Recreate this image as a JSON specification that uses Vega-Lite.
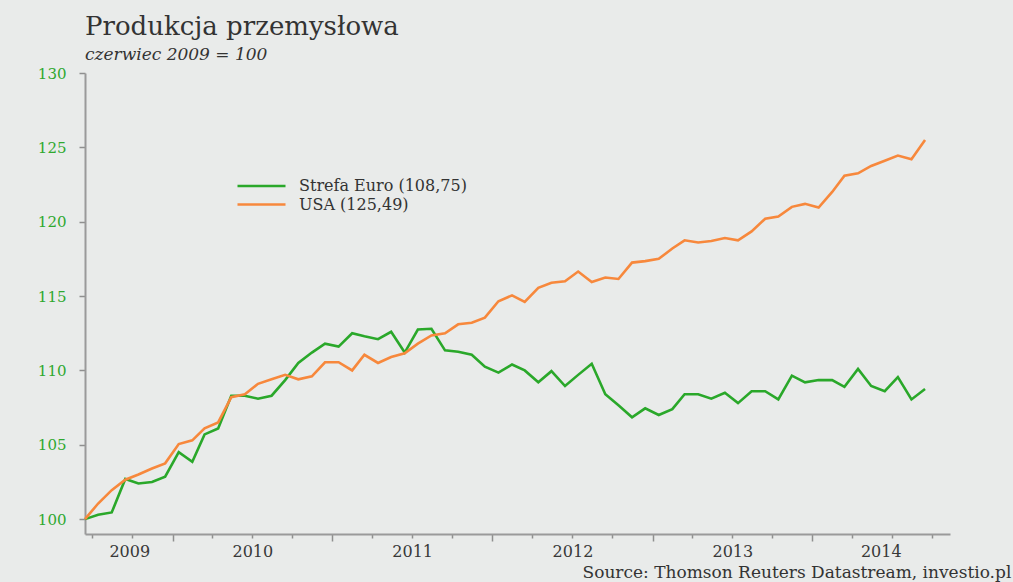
{
  "$schema": "https://vega.github.io/schema/vega-lite/v6.json",
  "width": 865,
  "height": 461,
  "autosize": "none",
  "padding": {"left": 85, "top": 73, "right": 63, "bottom": 48},
  "background": "#e9ebea",
  "config": {"view": {"stroke": null}, "font": "DejaVu Serif"},
  "title": {
    "text": "Produkcja przemysłowa",
    "subtitle": "czerwiec 2009 = 100",
    "anchor": "start",
    "frame": "group",
    "font": "DejaVu Serif",
    "fontSize": 26,
    "fontWeight": "normal",
    "color": "#333333",
    "subtitleFont": "DejaVu Serif",
    "subtitleFontSize": 17,
    "subtitleFontStyle": "italic",
    "subtitleColor": "#333333",
    "offset": 3,
    "subtitlePadding": 7
  },
  "data": {
    "values": [
      {"date": "2009-06-15", "euro": 100.0, "usa": 100.0},
      {"date": "2009-07-15", "euro": 100.3, "usa": 101.05},
      {"date": "2009-08-15", "euro": 100.45, "usa": 101.95},
      {"date": "2009-09-15", "euro": 102.7, "usa": 102.65},
      {"date": "2009-10-15", "euro": 102.4, "usa": 103.0},
      {"date": "2009-11-15", "euro": 102.5, "usa": 103.4},
      {"date": "2009-12-15", "euro": 102.85, "usa": 103.75},
      {"date": "2010-01-15", "euro": 104.5, "usa": 105.05},
      {"date": "2010-02-15", "euro": 103.85, "usa": 105.3},
      {"date": "2010-03-15", "euro": 105.7, "usa": 106.1},
      {"date": "2010-04-15", "euro": 106.1, "usa": 106.5},
      {"date": "2010-05-15", "euro": 108.3, "usa": 108.2},
      {"date": "2010-06-15", "euro": 108.3, "usa": 108.4},
      {"date": "2010-07-15", "euro": 108.1, "usa": 109.1},
      {"date": "2010-08-15", "euro": 108.3, "usa": 109.4},
      {"date": "2010-09-15", "euro": 109.35, "usa": 109.7},
      {"date": "2010-10-15", "euro": 110.5, "usa": 109.4},
      {"date": "2010-11-15", "euro": 111.2, "usa": 109.6},
      {"date": "2010-12-15", "euro": 111.8, "usa": 110.55},
      {"date": "2011-01-15", "euro": 111.6, "usa": 110.55},
      {"date": "2011-02-15", "euro": 112.5, "usa": 110.0},
      {"date": "2011-03-15", "euro": 112.3, "usa": 111.05},
      {"date": "2011-04-15", "euro": 112.1, "usa": 110.5},
      {"date": "2011-05-15", "euro": 112.6, "usa": 110.9},
      {"date": "2011-06-15", "euro": 111.2, "usa": 111.15},
      {"date": "2011-07-15", "euro": 112.75, "usa": 111.8},
      {"date": "2011-08-15", "euro": 112.8, "usa": 112.35},
      {"date": "2011-09-15", "euro": 111.35, "usa": 112.5},
      {"date": "2011-10-15", "euro": 111.25, "usa": 113.1},
      {"date": "2011-11-15", "euro": 111.05, "usa": 113.2},
      {"date": "2011-12-15", "euro": 110.25, "usa": 113.55},
      {"date": "2012-01-15", "euro": 109.85, "usa": 114.65},
      {"date": "2012-02-15", "euro": 110.4, "usa": 115.05},
      {"date": "2012-03-15", "euro": 110.0, "usa": 114.6},
      {"date": "2012-04-15", "euro": 109.2, "usa": 115.55},
      {"date": "2012-05-15", "euro": 109.95, "usa": 115.9},
      {"date": "2012-06-15", "euro": 108.95, "usa": 116.0},
      {"date": "2012-07-15", "euro": 109.7, "usa": 116.65},
      {"date": "2012-08-15", "euro": 110.45, "usa": 115.95},
      {"date": "2012-09-15", "euro": 108.4, "usa": 116.25},
      {"date": "2012-10-15", "euro": 107.65, "usa": 116.15},
      {"date": "2012-11-15", "euro": 106.85, "usa": 117.25},
      {"date": "2012-12-15", "euro": 107.45, "usa": 117.35},
      {"date": "2013-01-15", "euro": 107.0, "usa": 117.5},
      {"date": "2013-02-15", "euro": 107.4, "usa": 118.2},
      {"date": "2013-03-15", "euro": 108.4, "usa": 118.75},
      {"date": "2013-04-15", "euro": 108.4, "usa": 118.6},
      {"date": "2013-05-15", "euro": 108.1, "usa": 118.7},
      {"date": "2013-06-15", "euro": 108.5, "usa": 118.9},
      {"date": "2013-07-15", "euro": 107.8, "usa": 118.75},
      {"date": "2013-08-15", "euro": 108.6, "usa": 119.35},
      {"date": "2013-09-15", "euro": 108.6, "usa": 120.2},
      {"date": "2013-10-15", "euro": 108.05, "usa": 120.35},
      {"date": "2013-11-15", "euro": 109.65, "usa": 121.0},
      {"date": "2013-12-15", "euro": 109.2, "usa": 121.2},
      {"date": "2014-01-15", "euro": 109.35, "usa": 120.95},
      {"date": "2014-02-15", "euro": 109.35, "usa": 122.0},
      {"date": "2014-03-15", "euro": 108.9, "usa": 123.1},
      {"date": "2014-04-15", "euro": 110.1, "usa": 123.25},
      {"date": "2014-05-15", "euro": 108.95, "usa": 123.75},
      {"date": "2014-06-15", "euro": 108.6, "usa": 124.1},
      {"date": "2014-07-15", "euro": 109.55, "usa": 124.45},
      {"date": "2014-08-15", "euro": 108.05, "usa": 124.2},
      {"date": "2014-09-15", "euro": 108.75, "usa": 125.49}
    ]
  },
  "transform": [{"fold": ["euro", "usa"], "as": ["series", "value"]}],
  "mark": {"type": "line", "strokeWidth": 2.6},
  "encoding": {
    "x": {
      "field": "date",
      "type": "temporal",
      "scale": {
        "type": "utc",
        "domain": [
          {"year": 2009, "month": 6, "date": 15, "utc": true},
          {"year": 2014, "month": 11, "date": 11, "utc": true}
        ]
      },
      "axis": {
        "title": "Source: Thomson Reuters Datastream, investio.pl",
        "titleX": 497,
        "titleY": 43,
        "titleAlign": "left",
        "titleBaseline": "alphabetic",
        "titleFont": "DejaVu Serif",
        "titleFontSize": 17,
        "titleFontWeight": "normal",
        "titleColor": "#333333",
        "values": [
          {"year": 2009, "month": 7, "date": 1, "utc": true},
          {"year": 2009, "month": 10, "date": 1, "utc": true},
          {"year": 2010, "month": 1, "date": 1, "utc": true},
          {"year": 2010, "month": 4, "date": 1, "utc": true},
          {"year": 2010, "month": 7, "date": 1, "utc": true},
          {"year": 2010, "month": 10, "date": 1, "utc": true},
          {"year": 2011, "month": 1, "date": 1, "utc": true},
          {"year": 2011, "month": 4, "date": 1, "utc": true},
          {"year": 2011, "month": 7, "date": 1, "utc": true},
          {"year": 2011, "month": 10, "date": 1, "utc": true},
          {"year": 2012, "month": 1, "date": 1, "utc": true},
          {"year": 2012, "month": 4, "date": 1, "utc": true},
          {"year": 2012, "month": 7, "date": 1, "utc": true},
          {"year": 2012, "month": 10, "date": 1, "utc": true},
          {"year": 2013, "month": 1, "date": 1, "utc": true},
          {"year": 2013, "month": 4, "date": 1, "utc": true},
          {"year": 2013, "month": 7, "date": 1, "utc": true},
          {"year": 2013, "month": 10, "date": 1, "utc": true},
          {"year": 2014, "month": 1, "date": 1, "utc": true},
          {"year": 2014, "month": 4, "date": 1, "utc": true},
          {"year": 2014, "month": 7, "date": 1, "utc": true},
          {"year": 2014, "month": 10, "date": 1, "utc": true},
          {"year": 2009, "month": 9, "date": 24, "utc": true},
          {"year": 2010, "month": 7, "date": 2, "utc": true},
          {"year": 2011, "month": 7, "date": 2, "utc": true},
          {"year": 2012, "month": 7, "date": 2, "utc": true},
          {"year": 2013, "month": 7, "date": 2, "utc": true},
          {"year": 2014, "month": 6, "date": 6, "utc": true}
        ],
        "labelExpr": "utcdate(datum.value) == 1 ? '' : utcFormat(datum.value, '%Y')",
        "labelOverlap": false,
        "labelFlush": false,
        "labelFont": "DejaVu Serif",
        "labelFontSize": 16,
        "labelColor": "#383838",
        "labelPadding": 5,
        "tickSize": {"condition": {"test": "utcmonth(datum.value) == 0", "value": 7}, "value": 4},
        "tickWidth": 1.5,
        "tickColor": "#8f8f8f",
        "tickOpacity": {"condition": {"test": "utcdate(datum.value) != 1", "value": 0}, "value": 1},
        "domainColor": "#9a9a9a",
        "domainWidth": 2,
        "grid": false
      }
    },
    "y": {
      "field": "value",
      "type": "quantitative",
      "scale": {"domain": [99, 130], "nice": false, "zero": false},
      "axis": {
        "title": null,
        "values": [100, 105, 110, 115, 120, 125, 130],
        "labelFont": "DejaVu Serif",
        "labelFontSize": 15,
        "labelColor": "#2fa82f",
        "labelPadding": 13,
        "tickSize": 6,
        "tickWidth": 1.5,
        "tickColor": "#8f8f8f",
        "domainColor": "#9a9a9a",
        "domainWidth": 2,
        "grid": false
      }
    },
    "color": {
      "field": "series",
      "type": "nominal",
      "scale": {"domain": ["euro", "usa"], "range": ["#2aa82a", "#f7883c"]},
      "legend": {
        "orient": "none",
        "legendX": 167,
        "legendY": 103.5,
        "title": null,
        "padding": 0,
        "symbolType": "M-3,0H3",
        "symbolSize": 256,
        "symbolStrokeWidth": 2.6,
        "labelFont": "DejaVu Serif",
        "labelFontSize": 16,
        "labelColor": "#333333",
        "labelOffset": 28,
        "labelLimit": 400,
        "rowPadding": 0.5,
        "labelExpr": "datum.label == 'euro' ? 'Strefa Euro (108,75)' : 'USA (125,49)'"
      }
    }
  }
}
